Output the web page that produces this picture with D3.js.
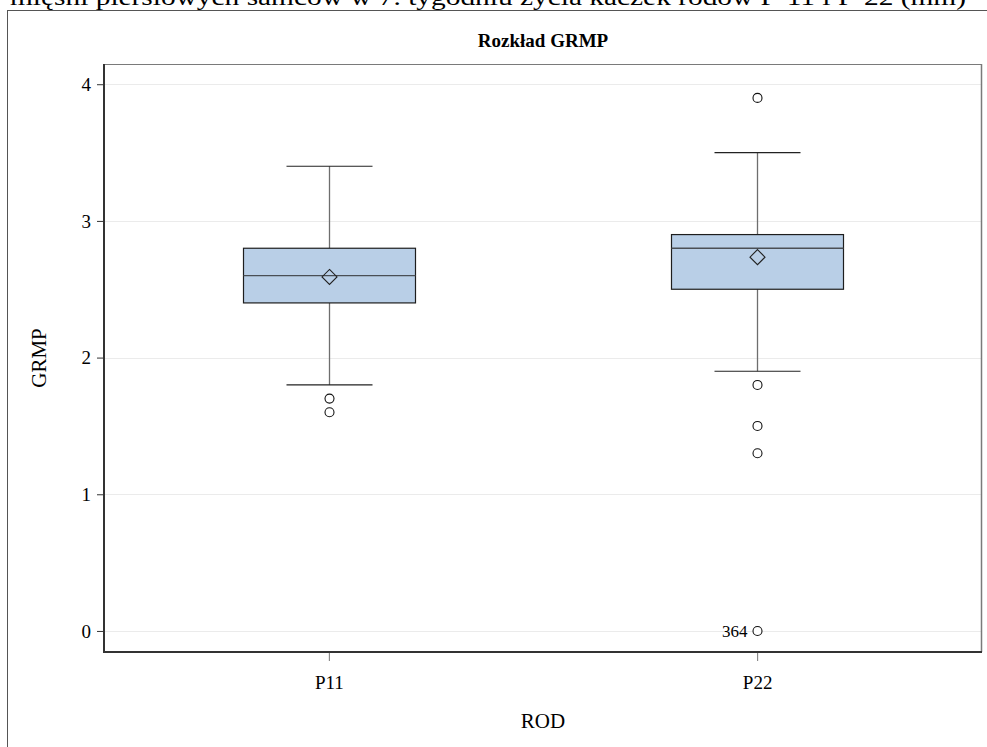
<!DOCTYPE html>
<html>
<head>
<meta charset="utf-8">
<script src="https://cdn.jsdelivr.net/npm/d3@7"></script>
<style>
  html, body { margin: 0; padding: 0; background: #fff; }
  svg { display: block; }
  text { font-family: "Liberation Serif", "Times New Roman", serif; fill: #000; }
</style>
</head>
<body>
<svg id="chart" width="987" height="747"></svg>
<script>
// Groups (ROD) and box-plot summaries of GRMP
const categories = ["P11", "P22"];
const q1 = [2.4, 2.5];
const median = [2.6, 2.8];
const q3 = [2.8, 2.9];
const whiskerLow = [1.8, 1.9];
const whiskerHigh = [3.4, 3.5];
const means = [2.59, 2.735];
const outliers = [
  [1.7, 1.6],
  [3.9, 1.8, 1.5, 1.3, 0]
];
const outlierLabels = [[null, null], [null, null, null, null, "364"]];
const yTicks = [0, 1, 2, 3, 4];

const svg = d3.select("#chart");
const plot = { left: 104, right: 982, top: 64, bottom: 652 };
const SERIF = "Liberation Serif, Times New Roman, serif";

// Caption line running off the top edge
svg.append("text")
  .attr("x", 10).attr("y", 5)
  .attr("font-size", 24)
  .attr("textLength", 956).attr("lengthAdjust", "spacingAndGlyphs")
  .text("mięśni piersiowych samców w 7. tygodniu życia kaczek rodów P-11 i P-22 (mm)");

// Outer frame of the graph area
svg.append("rect")
  .attr("x", 7.5).attr("y", 10.5)
  .attr("width", 990).attr("height", 760)
  .attr("fill", "none").attr("stroke", "#555").attr("stroke-width", 1);

const x = d3.scalePoint().domain(categories)
  .range([plot.left, plot.right]).padding(0.525);
const y = d3.scaleLinear().domain([-0.154, 4.148])
  .range([plot.bottom, plot.top]);

// Horizontal gridlines
svg.append("g").selectAll("line").data(yTicks).join("line")
  .attr("x1", plot.left).attr("x2", plot.right)
  .attr("y1", d => Math.round(y(d)) + 0.5).attr("y2", d => Math.round(y(d)) + 0.5)
  .attr("stroke", "#ebebeb").attr("stroke-width", 1);

// Plot frame: top/right lighter, left/bottom darker
svg.append("line").attr("x1", plot.left).attr("x2", plot.right)
  .attr("y1", plot.top + 0.5).attr("y2", plot.top + 0.5)
  .attr("stroke", "#7a7a7a").attr("stroke-width", 1);
svg.append("line").attr("x1", plot.right - 0.5).attr("x2", plot.right - 0.5)
  .attr("y1", plot.top).attr("y2", plot.bottom)
  .attr("stroke", "#7a7a7a").attr("stroke-width", 1.5);

// Y axis
const yAxis = svg.append("g")
  .attr("transform", `translate(${plot.left},0)`)
  .call(d3.axisLeft(y).tickValues(yTicks).tickSize(7).tickPadding(6).tickFormat(d3.format("d")));
yAxis.select(".domain").remove();
yAxis.selectAll(".tick line").attr("stroke", "#333");
yAxis.selectAll(".tick text")
  .attr("font-family", SERIF).attr("font-size", 19).attr("fill", "#000");
svg.append("line").attr("x1", plot.left).attr("x2", plot.left)
  .attr("y1", plot.top).attr("y2", plot.bottom + 1)
  .attr("stroke", "#333").attr("stroke-width", 2);

// X axis
const xAxis = svg.append("g")
  .attr("transform", `translate(0,${plot.bottom})`)
  .call(d3.axisBottom(x).tickSize(9).tickPadding(15));
xAxis.select(".domain").remove();
xAxis.selectAll(".tick line").attr("stroke", "#777");
xAxis.selectAll(".tick text")
  .attr("font-family", SERIF).attr("font-size", 19).attr("fill", "#000");
svg.append("line").attr("x1", plot.left).attr("x2", plot.right)
  .attr("y1", plot.bottom).attr("y2", plot.bottom)
  .attr("stroke", "#333").attr("stroke-width", 2);

// Boxes
const boxW = 172, capW = 86;
const g = svg.append("g");
categories.forEach((c, i) => {
  const cx = Math.round(x(c)) + 0.5;
  // whiskers
  g.append("line").attr("x1", cx).attr("x2", cx)
    .attr("y1", y(whiskerHigh[i])).attr("y2", y(q3[i]))
    .attr("stroke", "#6e6e6e").attr("stroke-width", 1.3);
  g.append("line").attr("x1", cx).attr("x2", cx)
    .attr("y1", y(q1[i])).attr("y2", y(whiskerLow[i]))
    .attr("stroke", "#6e6e6e").attr("stroke-width", 1.3);
  [whiskerHigh[i], whiskerLow[i]].forEach(v => {
    g.append("line").attr("x1", cx - capW / 2).attr("x2", cx + capW / 2)
      .attr("y1", y(v)).attr("y2", y(v))
      .attr("stroke", "#222").attr("stroke-width", 1.2);
  });
  // box
  g.append("rect")
    .attr("x", cx - boxW / 2).attr("y", y(q3[i]))
    .attr("width", boxW).attr("height", y(q1[i]) - y(q3[i]))
    .attr("fill", "#b9cfe7").attr("stroke", "#1e1e1e").attr("stroke-width", 1.2);
  // median
  g.append("line").attr("x1", cx - boxW / 2).attr("x2", cx + boxW / 2)
    .attr("y1", y(median[i])).attr("y2", y(median[i]))
    .attr("stroke", "#4a4f55").attr("stroke-width", 1.4);
  // mean diamond
  const my = y(means[i]), r = 7.5;
  g.append("path")
    .attr("d", `M${cx},${my - r}L${cx + r},${my}L${cx},${my + r}L${cx - r},${my}Z`)
    .attr("fill", "none").attr("stroke", "#222").attr("stroke-width", 1.1);
  // outliers
  outliers[i].forEach((v, k) => {
    g.append("circle").attr("cx", cx).attr("cy", y(v)).attr("r", 4.5)
      .attr("fill", "#fff").attr("stroke", "#111").attr("stroke-width", 1.1);
    const lab = outlierLabels[i][k];
    if (lab) {
      g.append("text").attr("x", cx - 10).attr("y", y(v)).attr("dy", "0.35em")
        .attr("text-anchor", "end").attr("font-size", 17).text(lab);
    }
  });
});

// Titles
svg.append("text")
  .attr("x", (plot.left + plot.right) / 2).attr("y", 47)
  .attr("text-anchor", "middle").attr("font-size", 19).attr("font-weight", "bold")
  .text("Rozkład GRMP");
svg.append("text")
  .attr("transform", `translate(46,${(plot.top + plot.bottom) / 2}) rotate(-90)`)
  .attr("text-anchor", "middle").attr("font-size", 21)
  .text("GRMP");
svg.append("text")
  .attr("x", (plot.left + plot.right) / 2).attr("y", 728)
  .attr("text-anchor", "middle").attr("font-size", 21)
  .text("ROD");
</script>
</body>
</html>
